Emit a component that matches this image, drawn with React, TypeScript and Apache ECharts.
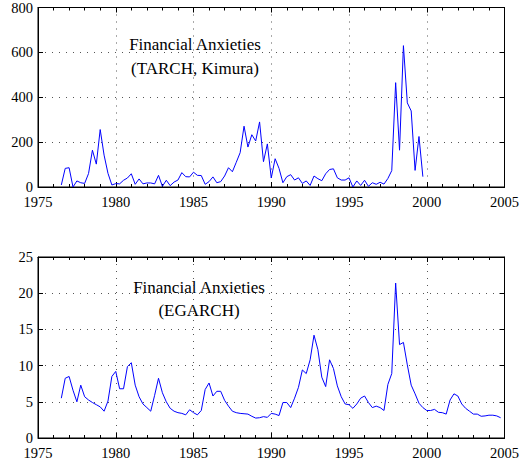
import React, { useEffect, useRef } from "react";
import * as echarts from "echarts";

// Quarterly observations starting 1976 Q3
const firstQuarter = 1976.5;
const quarterStep = 0.25;

const tarchValues = [
  9, 83, 86, 0, 27, 19, 16, 60, 164, 102,
  256, 142, 61, 9, 15, 14, 30, 40, 59, 12,
  36, 14, 18, 18, 14, 52, 3, 30, 6, 22,
  31, 64, 46, 45, 66, 52, 51, 12, 24, 45,
  19, 24, 49, 86, 68, 110, 153, 271, 178, 233,
  205, 290, 113, 192, 40, 126, 83, 19, 46, 55,
  31, 41, 16, 27, 7, 49, 37, 28, 59, 78,
  81, 41, 31, 31, 41, 0, 27, 7, 30, 3,
  19, 12, 21, 13, 38, 73, 465, 164, 630, 375,
  339, 74, 225, 46,
];

const egarchValues = [
  5.5, 8.25, 8.5, 6.6, 5.0, 7.3, 5.7, 5.25, 4.9, 4.6,
  4.3, 3.7, 5.1, 8.5, 9.2, 6.8, 6.8, 9.85, 10.4, 7.3,
  5.7, 4.7, 4.2, 3.7, 5.9, 8.25, 6.25, 5.0, 4.1, 3.7,
  3.5, 3.4, 3.2, 3.9, 3.5, 3.2, 3.8, 6.7, 7.6, 5.8,
  6.45, 6.45, 5.2, 4.4, 3.7, 3.5, 3.4, 3.35, 3.3, 3.0,
  2.75, 2.8, 2.95, 2.85, 3.4, 3.3, 3.1, 4.9, 4.9, 4.2,
  5.5, 7.0, 9.4, 8.9, 10.8, 14.2, 12.2, 8.4, 7.1, 10.8,
  9.6, 7.2, 5.7, 4.7, 4.6, 4.1, 4.7, 5.5, 5.8, 4.9,
  4.2, 4.4, 4.2, 3.8, 7.4, 8.9, 21.4, 12.9, 13.2, 10.1,
  7.3, 6.1, 4.8, 4.2, 3.8, 3.8, 3.95, 3.55, 3.5, 3.3,
  5.25, 6.1, 5.8, 4.7, 4.1, 3.7, 3.3, 3.3, 3.0, 3.05,
  3.15, 3.15, 3.05, 2.8,
];

const xMin = 1975;
const xMax = 2005;
const xInterval = 5;
const topYMax = 800;
const topYInterval = 200;
const bottomYMax = 25;
const bottomYInterval = 5;

const topTitle = ["Financial Anxieties", "(TARCH, Kimura)"];
const bottomTitle = ["Financial Anxieties", "(EGARCH)"];

const FONT = "Liberation Serif";

function toPoints(values: number[]) {
  return values.map((v, i) => [firstQuarter + i * quarterStep, v]);
}

const gridLine = { show: true, lineStyle: { color: "#555", width: 1, type: [1, 6] as any } };

function makeX(gridIndex: number, position: "top" | "bottom") {
  const isBottom = position === "bottom";
  return {
    type: "value",
    gridIndex,
    position,
    min: xMin,
    max: xMax,
    interval: xInterval,
    axisLine: { show: true, onZero: false, lineStyle: { color: "#000", width: 1 } },
    axisTick: { show: true, inside: true, length: 5, lineStyle: { color: "#000" } },
    minorTick: { show: true, splitNumber: 5, length: 3, lineStyle: { color: "#000" } },
    axisLabel: {
      show: isBottom,
      color: "#000",
      fontFamily: FONT,
      fontSize: 14.5,
      margin: 7,
      formatter: (v: number) => String(v),
    },
    splitLine: isBottom ? gridLine : { show: false },
  };
}

function makeY(gridIndex: number, position: "left" | "right", max: number, interval: number) {
  const isLeft = position === "left";
  return {
    type: "value",
    gridIndex,
    position,
    min: 0,
    max,
    interval,
    axisLine: { show: true, onZero: false, lineStyle: { color: "#000", width: 1 } },
    axisTick: { show: true, inside: true, length: 5, lineStyle: { color: "#000" } },
    axisLabel: {
      show: isLeft,
      color: "#000",
      fontFamily: FONT,
      fontSize: 14.5,
      margin: 5,
    },
    splitLine: isLeft ? gridLine : { show: false },
  };
}

function titleText(lines: string[], cx: number, y1: number, y2: number) {
  return lines.map((line, i) => ({
    type: "text",
    x: cx,
    y: i === 0 ? y1 : y2,
    style: {
      text: line,
      fill: "#000",
      fontFamily: FONT,
      fontSize: 17,
      textAlign: "center",
      textVerticalAlign: "middle",
    },
  }));
}

export default function App() {
  const ref = useRef<HTMLDivElement>(null);
  useEffect(() => {
    if (!ref.current) return;
    const chart = echarts.init(ref.current, null, { renderer: "svg" });
    chart.setOption({
      animation: false,
      backgroundColor: "#fff",
      textStyle: { fontFamily: FONT },
      grid: [
        { left: 38, top: 7, width: 470, height: 180, show: true, borderColor: "#000", borderWidth: 1, containLabel: false },
        { left: 38, top: 257, width: 470, height: 181, show: true, borderColor: "#000", borderWidth: 1, containLabel: false },
      ],
      xAxis: [makeX(0, "bottom"), makeX(0, "top"), makeX(1, "bottom"), makeX(1, "top")],
      yAxis: [
        makeY(0, "left", topYMax, topYInterval),
        makeY(0, "right", topYMax, topYInterval),
        makeY(1, "left", bottomYMax, bottomYInterval),
        makeY(1, "right", bottomYMax, bottomYInterval),
      ],
      series: [
        {
          type: "line",
          xAxisIndex: 0,
          yAxisIndex: 0,
          data: toPoints(tarchValues),
          showSymbol: false,
          lineStyle: { color: "#0000ff", width: 1 },
        },
        {
          type: "line",
          xAxisIndex: 2,
          yAxisIndex: 2,
          data: toPoints(egarchValues),
          showSymbol: false,
          lineStyle: { color: "#0000ff", width: 1 },
        },
      ],
      graphic: [...titleText(topTitle, 195, 44, 68), ...titleText(bottomTitle, 199, 287, 310)],
    });
    return () => chart.dispose();
  }, []);
  return (
    <div
      ref={ref}
      style={{ position: "fixed", left: 0, top: 0, width: 522, height: 467, background: "#fff" }}
    />
  );
}
